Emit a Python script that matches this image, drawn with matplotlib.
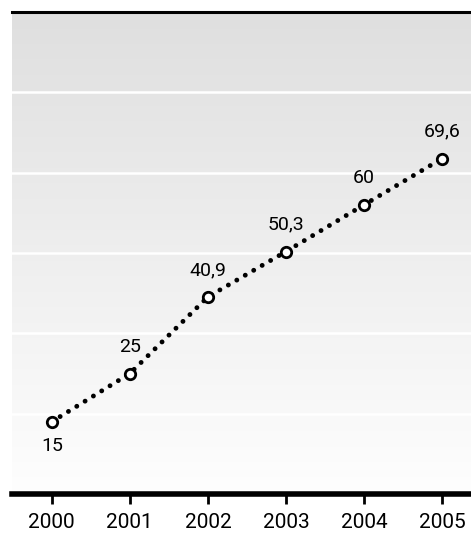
import numpy as np
import matplotlib
matplotlib.use("Agg")
import matplotlib.pyplot as plt
from matplotlib.colors import LinearSegmentedColormap
from matplotlib import font_manager

years = [2000, 2001, 2002, 2003, 2004, 2005]
values = [15, 25, 40.9, 50.3, 60, 69.6]
labels = ["15", "25", "40,9", "50,3", "60", "69,6"]

names = set(f.name for f in font_manager.fontManager.ttflist)
fam = "Liberation Sans Narrow" if "Liberation Sans Narrow" in names else "Roboto"
plt.rcParams['font.family'] = [fam, 'DejaVu Sans']

fig = plt.figure(figsize=(4.71, 5.35), dpi=100)
ax = fig.add_axes([12/471, 41/535, 459/471, 482/535])

ymax = 100
ax.set_xlim(1999.49, 2005.37)
ax.set_ylim(0, ymax)

# fond en dégradé
cmap = LinearSegmentedColormap.from_list("g", ["#fefefe", "#dfdfdf"])
grad = np.linspace(0, 1, 256).reshape(-1, 1)
ax.imshow(grad, extent=[1999.49, 2005.37, 0, ymax], origin="lower",
          aspect="auto", cmap=cmap, zorder=0)

for g in np.arange(1, 6) * ymax / 6:
    ax.axhline(g, color="white", lw=1.8, zorder=1)

ax.plot(years, values, color="black", lw=3.5, linestyle=(0, (0.01, 2.0)),
        dash_capstyle="round", zorder=2)
ax.plot(years, values, "o", ms=7.5, mfc="white", mec="black", mew=2, zorder=3)

for i, (x, v, t) in enumerate(zip(years, values, labels)):
    off = -24 if i == 0 else 27
    ax.annotate(t, (x, v), xytext=(0, off), textcoords="offset pixels",
                ha="center", va="center", fontsize=14)

for s in ["left", "right"]:
    ax.spines[s].set_visible(False)
ax.spines["top"].set_linewidth(2.2)
ax.spines["bottom"].set_linewidth(4)
ax.set_yticks([])
ax.set_xticks(years)
ax.tick_params(axis="x", length=7, width=2, direction="out", pad=7, labelsize=15)

fig.savefig("out.png", dpi=100)
